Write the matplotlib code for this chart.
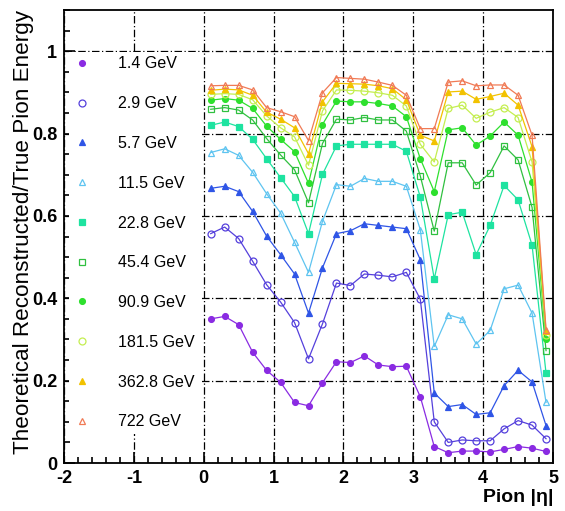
import matplotlib
matplotlib.use("Agg")
import matplotlib.pyplot as plt
from matplotlib.lines import Line2D
from matplotlib.ticker import MultipleLocator

# pion |eta| bins
eta = [0.1, 0.3, 0.5, 0.7, 0.9, 1.1, 1.3, 1.5, 1.7, 1.9, 2.1, 2.3, 2.5,
       2.7, 2.9, 3.1, 3.3, 3.5, 3.7, 3.9, 4.1, 4.3, 4.5, 4.7, 4.9]

labels = ["1.4 GeV", "2.9 GeV", "5.7 GeV", "11.5 GeV", "22.8 GeV",
          "45.4 GeV", "90.9 GeV", "181.5 GeV", "362.8 GeV", "722 GeV"]

e_1p4 = [0.350, 0.356, 0.336, 0.269, 0.225, 0.196, 0.147, 0.139, 0.195, 0.246, 0.244, 0.260, 0.238,
         0.234, 0.235, 0.161, 0.040, 0.025, 0.029, 0.029, 0.027, 0.033, 0.040, 0.036, 0.028]
e_2p9 = [0.557, 0.573, 0.545, 0.490, 0.433, 0.391, 0.341, 0.253, 0.338, 0.437, 0.431, 0.459, 0.456,
         0.452, 0.463, 0.398, 0.100, 0.050, 0.056, 0.054, 0.054, 0.083, 0.103, 0.092, 0.059]
e_5p7 = [0.667, 0.672, 0.659, 0.611, 0.551, 0.506, 0.459, 0.364, 0.474, 0.557, 0.564, 0.581, 0.577,
         0.573, 0.569, 0.494, 0.170, 0.137, 0.142, 0.118, 0.122, 0.188, 0.225, 0.197, 0.091]
e_11p5 = [0.754, 0.763, 0.747, 0.706, 0.654, 0.607, 0.536, 0.463, 0.587, 0.676, 0.672, 0.691, 0.684,
          0.684, 0.672, 0.567, 0.283, 0.360, 0.350, 0.289, 0.322, 0.423, 0.432, 0.364, 0.147]
e_22p8 = [0.820, 0.828, 0.817, 0.786, 0.739, 0.693, 0.647, 0.557, 0.701, 0.770, 0.774, 0.774, 0.774,
          0.774, 0.757, 0.646, 0.447, 0.603, 0.609, 0.506, 0.577, 0.674, 0.639, 0.529, 0.218]
e_45p4 = [0.859, 0.863, 0.857, 0.833, 0.788, 0.748, 0.712, 0.632, 0.776, 0.835, 0.833, 0.839, 0.833,
          0.833, 0.806, 0.697, 0.563, 0.729, 0.729, 0.675, 0.705, 0.770, 0.736, 0.621, 0.273]
e_90p9 = [0.881, 0.885, 0.881, 0.861, 0.818, 0.786, 0.756, 0.679, 0.822, 0.879, 0.877, 0.877, 0.873,
          0.867, 0.841, 0.739, 0.659, 0.809, 0.814, 0.772, 0.794, 0.828, 0.796, 0.682, 0.302]
e_181p5 = [0.895, 0.897, 0.895, 0.882, 0.843, 0.814, 0.792, 0.723, 0.855, 0.906, 0.905, 0.903, 0.899,
           0.893, 0.867, 0.774, 0.731, 0.861, 0.869, 0.837, 0.852, 0.863, 0.839, 0.731, 0.310]
e_362p8 = [0.905, 0.908, 0.906, 0.893, 0.852, 0.835, 0.814, 0.751, 0.877, 0.922, 0.921, 0.920, 0.916,
           0.909, 0.882, 0.796, 0.782, 0.901, 0.903, 0.883, 0.890, 0.898, 0.869, 0.768, 0.320]
e_722 = [0.916, 0.917, 0.917, 0.906, 0.863, 0.853, 0.841, 0.783, 0.899, 0.936, 0.934, 0.932, 0.925,
         0.917, 0.893, 0.812, 0.812, 0.925, 0.928, 0.916, 0.918, 0.918, 0.893, 0.796, 0.324]

series = [e_1p4, e_2p9, e_5p7, e_11p5, e_22p8, e_45p4, e_90p9, e_181p5, e_362p8, e_722]

colors = ["#8a2be2", "#5540dc", "#2f55e6", "#5ec4f0", "#1ee3a0",
          "#30c040", "#2ee02e", "#c4ee50", "#f2c200", "#f07a55"]
markers = ["o", "o", "^", "^", "s", "s", "o", "o", "^", "^"]
filled = [True, False, True, False, True, False, True, False, True, False]

plt.rcParams['font.family'] = ['Liberation Sans', 'DejaVu Sans']
plt.rcParams['axes.unicode_minus'] = False

fig = plt.figure(figsize=(5.65, 5.11), dpi=100)
ax = fig.add_axes([0.1133, 0.0939, 0.8655, 0.8865])

handles = []
for vals, lab, col, mk, fill in zip(series, labels, colors, markers, filled):
    face = col if fill else "none"
    ms = 4.2 if fill else 5
    ax.plot(eta, vals, color=col, lw=0.9, marker=mk, ms=ms,
            markerfacecolor=face, markeredgecolor=col, markeredgewidth=0.9, zorder=3)
    handles.append(Line2D([], [], linestyle="none", marker=mk, ms=ms, color=col,
                          markerfacecolor=face, markeredgecolor=col, markeredgewidth=0.9))

ax.set_xlim(-2, 5)
ax.set_ylim(0, 1.1)

ax.xaxis.set_major_locator(MultipleLocator(1))
ax.xaxis.set_minor_locator(MultipleLocator(0.2))
ax.yaxis.set_major_locator(MultipleLocator(0.2))
ax.yaxis.set_minor_locator(MultipleLocator(0.05))
ax.yaxis.set_major_formatter(plt.FuncFormatter(lambda v, p: "%g" % round(v, 1)))

ax.tick_params(which="both", direction="in", top=False, right=False, width=1.2)
ax.tick_params(which="major", length=8, labelsize=13, pad=5)
ax.tick_params(which="minor", length=4)
for t in ax.get_xticklabels() + ax.get_yticklabels():
    t.set_fontweight("bold")

for s in ax.spines.values():
    s.set_linewidth(1.3)

ax.grid(True, which="major", color="black", lw=0.9, linestyle=(0, (6, 2, 1, 2)), zorder=1)
ax.set_axisbelow(True)

ax.set_ylabel("Theoretical Reconstructed/True Pion Energy", fontsize=16.2, loc="top")
ax.yaxis.set_label_coords(-0.062, 1.0)
ax.set_xlabel("Pion |η|", fontsize=14, fontweight="bold", loc="right")
ax.xaxis.set_label_coords(1.0, -0.058)

leg = ax.legend(handles, labels, loc="upper left", bbox_to_anchor=(0.01, 0.908),
                fontsize=11.5, frameon=True, facecolor="white", edgecolor="none",
                framealpha=1, fancybox=False, handlelength=1.0, handletextpad=1.8,
                labelspacing=1.55, borderpad=0.3, borderaxespad=0.0)
leg.set_zorder(5)

fig.savefig("out.png", dpi=100)
